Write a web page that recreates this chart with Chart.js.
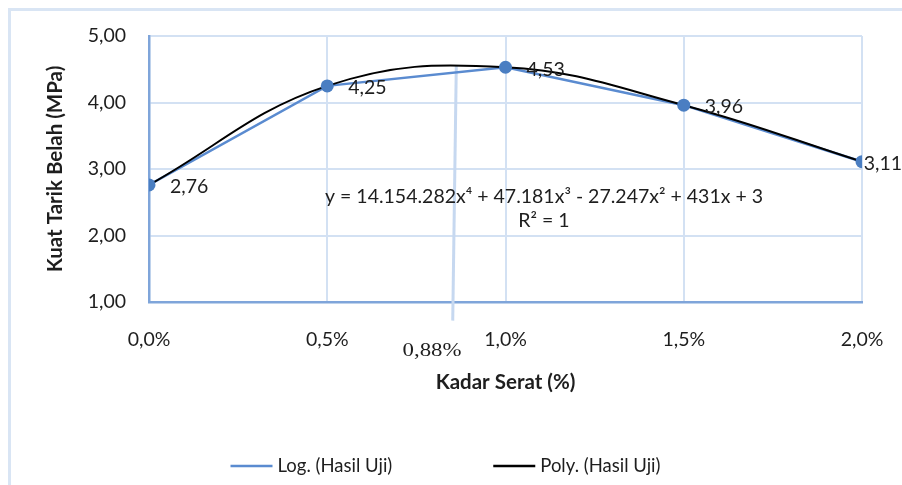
<!DOCTYPE html>
<html><head><meta charset="utf-8">
<script src="https://cdn.jsdelivr.net/npm/chart.js@4.4.0/dist/chart.umd.min.js"></script>
<style>html,body{margin:0;padding:0;background:#fff}</style>
</head><body><canvas id="c" width="902" height="485"></canvas>
<script>
// ---- data ----
const kadarSerat = [0, 0.5, 1.0, 1.5, 2.0];
const hasilUji = [2.76, 4.25, 4.53, 3.96, 3.11];
const xTicks = [0, 0.5, 1.0, 1.5, 2.0];
const yTicks = [1, 2, 3, 4, 5];
const optimumX = [0.862, 0.852];
const optimumY = [4.56, 0.72];
const optimumLabel = '0,88%';
const seriesNames = ['Log. (Hasil Uji)', 'Poly. (Hasil Uji)'];
const equationText = 'y = 14.154.282x\u2074 + 47.181x\u00B3 - 27.247x\u00B2 + 431x + 3';
const r2Text = 'R\u00B2 = 1';
const xTitle = 'Kadar Serat (%)';
const yTitle = 'Kuat Tarik Belah (MPa)';

const FONT = 'Lato';
const TXT = '#1e1e1e';
const BLUE = '#5a8bd0';
const MARK = '#4a7ec2';
const GRID = '#d3e1f3';
const AXIS = '#7fa5da';

const pts = (xs, ys) => xs.map((x, i) => ({x, y: ys[i]}));
const fmtNum = v => v.toFixed(2).replace('.', ',');
const fmtPct = v => v.toFixed(1).replace('.', ',') + '%';

const annot = {
  id: 'annot',
  beforeDraw(chart) {
    const ctx = chart.ctx;
    ctx.save();
    ctx.strokeStyle = '#d9e5f4';
    ctx.lineWidth = 3;
    ctx.strokeRect(9.5, 9.5, 910, 500);
    ctx.restore();
  },
  afterDatasetsDraw(chart) {
    const ctx = chart.ctx;
    const xs = chart.scales.x, ys = chart.scales.y;
    ctx.save();
    // data labels
    const meta = chart.getDatasetMeta(2);
    ctx.font = '19.5px ' + FONT;
    ctx.fillStyle = TXT;
    ctx.textBaseline = 'middle';
    ctx.textAlign = 'left';
    meta.data.forEach((el, i) => {
      const t = fmtNum(hasilUji[i]);
      const w = ctx.measureText(t).width;
      let lx = el.x + 21;
      if (lx + w > chart.width) lx = chart.width - w;
      ctx.fillText(t, lx, el.y + 2);
    });
    // trendline equation
    ctx.font = '19.5px ' + FONT;
    ctx.textAlign = 'center';
    const ex = xs.getPixelForValue(1.108);
    ctx.fillText(equationText, ex, ys.getPixelForValue(2.58));
    ctx.fillText(r2Text, ex, ys.getPixelForValue(2.22));
    // optimum label (serif)
    ctx.font = '19px "Liberation Serif"';
    const ox = xs.getPixelForValue(0.794), oy = ys.getPixelForValue(0.257);
    const ow = ctx.measureText(optimumLabel).width;
    ctx.translate(ox, oy);
    ctx.scale(59 / ow, 1);
    ctx.fillText(optimumLabel, 0, 0);
    ctx.restore();
  },
  afterDraw(chart) {
    const ctx = chart.ctx;
    ctx.save();
    ctx.font = '18.5px ' + FONT;
    ctx.textBaseline = 'middle';
    ctx.textAlign = 'left';
    const cols = [BLUE, '#000000'];
    const sw = 42, sg = 5, gap = 101;
    const widths = seriesNames.map(n => sw + sg + ctx.measureText(n).width);
    const total = widths[0] + widths[1] + gap;
    let x = 445.5 - total / 2;
    const y = 466;
    seriesNames.forEach((n, i) => {
      ctx.strokeStyle = cols[i];
      ctx.lineWidth = 2.5;
      ctx.beginPath(); ctx.moveTo(x, y); ctx.lineTo(x + sw, y); ctx.stroke();
      ctx.fillStyle = TXT;
      ctx.fillText(n, x + sw + sg, y);
      x += widths[i] + gap;
    });
    ctx.restore();
  }
};

new Chart(document.getElementById('c'), {
  type: 'line',
  data: {
    datasets: [
      { label: seriesNames[0], data: pts(kadarSerat, hasilUji), borderColor: BLUE, borderWidth: 2.5, tension: 0, pointRadius: 0, order: 2 },
      { label: seriesNames[1], data: pts(kadarSerat, hasilUji), borderColor: '#000000', borderWidth: 2, tension: 0.4, pointRadius: 0, order: 1 },
      { label: 'Hasil Uji', data: pts(kadarSerat, hasilUji), showLine: false, pointRadius: 6.5, pointBackgroundColor: MARK, pointBorderColor: MARK, pointBorderWidth: 0, order: 0 },
      { label: 'optimum', data: pts(optimumX, optimumY), borderColor: '#c6d8f0', borderWidth: 3, pointRadius: 0, clip: false, order: 5 }
    ]
  },
  options: {
    responsive: false,
    animation: false,
    events: [],
    layout: { padding: { left: 0, top: 36, right: 40, bottom: 83 } },
    plugins: { legend: { display: false }, tooltip: { enabled: false } },
    scales: {
      x: {
        type: 'linear', min: 0, max: 2,
        afterBuildTicks: s => { s.ticks = xTicks.map(v => ({value: v})); },
        afterFit: s => { s.height = 100; s.paddingLeft = 0; s.paddingRight = 0; },
        ticks: { callback: v => fmtPct(v), font: { family: FONT, size: 19.5 }, color: TXT, padding: 26, maxRotation: 0 },
        grid: { color: GRID, lineWidth: 2, drawTicks: false },
        border: { color: AXIS, width: 2.5 },
        title: { display: true, text: xTitle, font: { family: FONT, size: 20.5, weight: 'bold' }, color: TXT, padding: { top: 0, bottom: 7 } }
      },
      y: {
        min: 1, max: 5,
        afterBuildTicks: s => { s.ticks = yTicks.map(v => ({value: v})); },
        afterFit: s => { s.width = 149; },
        ticks: { callback: v => fmtNum(v), font: { family: FONT, size: 19.5 }, color: TXT, padding: 23 },
        grid: { color: GRID, lineWidth: 2, drawTicks: false },
        border: { color: AXIS, width: 2.5 },
        title: { display: true, text: yTitle, font: { family: FONT, size: 20.5, weight: 'bold' }, color: TXT, padding: { top: 43, bottom: 0 } }
      }
    }
  },
  plugins: [annot]
});
</script></body></html>
